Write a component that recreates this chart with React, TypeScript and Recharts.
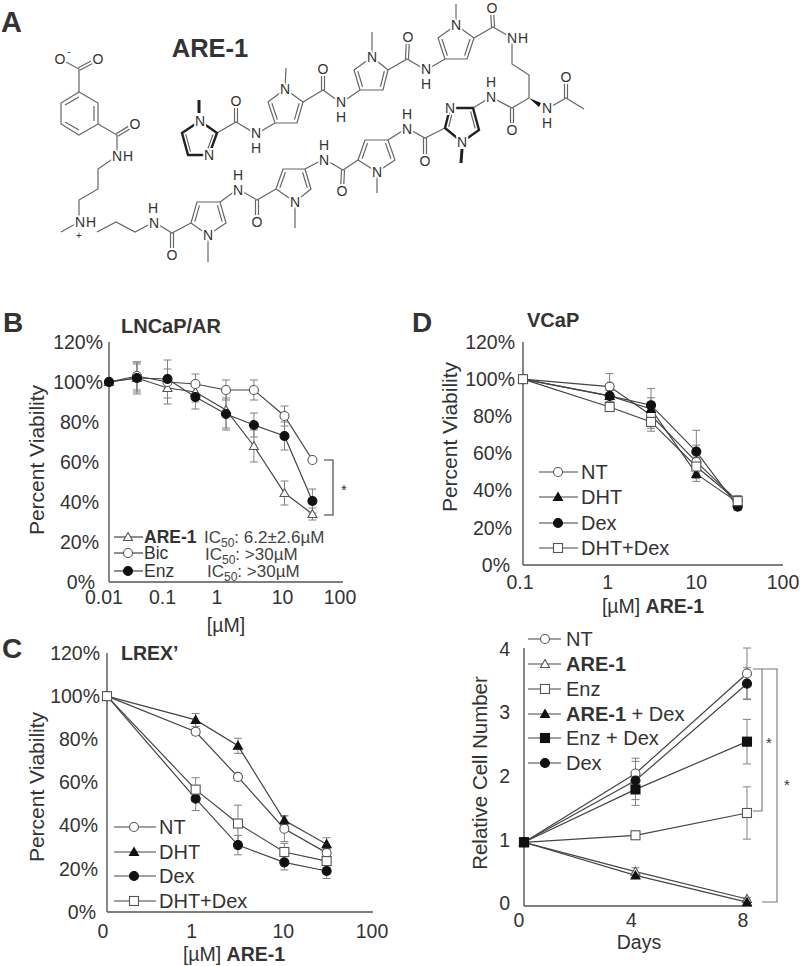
import React from 'react';
import { LineChart, Line, XAxis, YAxis, ErrorBar } from 'recharts';

const FONT = '"Liberation Sans", Arial, sans-serif';
const INK = '#333333';
const LINE = '#444444';
const ERR = '#808080';

// Panel B - LNCaP/AR
const bConc = [0.01, 0.03, 0.1, 0.3, 1, 3, 10, 30];
const bAre = [100, 102, 97, 95, 86, 68, 44.5, 34];
const bAreErr = [0, 8, 5, 5, 9, 8, 6, 3];
const bBic = [100, 103, 100, 99, 96, 96, 83, 61];
const bBicErr = [0, 7, 11, 5, 5, 5, 5, 0];
const bEnz = [100, 102, 101.5, 92.5, 84, 78.5, 73, 40.5];
const bEnzErr = [0, 7, 5, 6, 8, 6, 7, 6];

// Panel C - LREX'
const cConc = [0.1, 1, 3, 10, 30];
const cNt = [100, 83.5, 62.6, 38.6, 27.4];
const cNtErr = [0, 1.5, 1.5, 6, 2];
const cDht = [100, 89, 77, 42.5, 31.4];
const cDhtErr = [0, 3, 3.5, 2, 3];
const cDex = [100, 52.5, 31, 23, 19];
const cDexErr = [0, 5.5, 4.5, 3.5, 3.5];
const cCombo = [100, 56.7, 41, 27.8, 23.6];
const cComboErr = [0, 5.5, 8.5, 4, 3];

// Panel D - VCaP
const dConc = [0.1, 1, 3, 10, 30];
const dNt = [100, 96, 80.6, 55.5, 34.4];
const dNtErr = [0, 7, 7, 9, 3];
const dDht = [100, 91, 84, 49, 33.7];
const dDhtErr = [0, 3, 6, 4, 2];
const dDex = [100, 91, 86, 61, 31.4];
const dDexErr = [0, 3, 9, 11.5, 2];
const dCombo = [100, 85, 77, 53, 34.4];
const dComboErr = [0, 1.5, 5, 5, 3];

// Panel E - growth over days
const eDays = [0, 4, 8];
const eNt = [1, 2.08, 3.65];
const eNtErr = [0, 0.24, 0.4];
const eAre = [1, 0.54, 0.11];
const eAreErr = [0, 0.06, 0.02];
const eEnz = [1, 1.11, 1.46];
const eEnzErr = [0, 0.03, 0.41];
const eAreDex = [1, 0.48, 0.06];
const eAreDexErr = [0, 0.04, 0.02];
const eEnzDex = [1, 1.83, 2.58];
const eEnzDexErr = [0, 0.25, 0.35];
const eDex = [1, 1.97, 3.49];
const eDexErr = [0, 0.3, 0.25];

const pctTicks = [0, 20, 40, 60, 80, 100, 120];

function Marker({ kind, cx, cy, r = 4.5 }: any) {
  const open = kind.startsWith('open');
  const fill = open ? '#ffffff' : '#111111';
  const stroke = open ? '#555555' : '#111111';
  if (kind.endsWith('Circle')) return <circle cx={cx} cy={cy} r={r} fill={fill} stroke={stroke} strokeWidth={1.1} />;
  if (kind.endsWith('Square')) {
    return <rect x={cx - r} y={cy - r} width={2 * r} height={2 * r} fill={fill} stroke={stroke} strokeWidth={1.1} />;
  }
  return (
    <polygon
      points={`${cx},${cy - r} ${cx + r},${cy + r - 1} ${cx - r},${cy + r - 1}`}
      fill={fill}
      stroke={stroke}
      strokeWidth={1.1}
    />
  );
}

function buildRows(xs: number[], series: any[]) {
  return xs.map((x, i) => {
    const row: any = { x };
    series.forEach((s) => {
      row[s.key] = s.values[i];
      row[s.key + 'Err'] = s.errors[i];
    });
    return row;
  });
}

function Panel({ box, xs, series, xScale, xDomain, xTicks, xLabel, xLabelDx, xLabelGap, yDomain, yTicks, yLabel, yLabelDx, yLabelDy = 0 }: any) {
  const left = 70;
  const top = 16;
  const right = 26;
  const bottom = 42;
  const rows = buildRows(xs, series);
  const axisStyle = { stroke: '#555555', strokeWidth: 1.4 };
  return (
    <div style={{ position: 'absolute', left: box.x0 - left, top: box.y0 - top }}>
      <LineChart
        width={box.x1 - box.x0 + left + right}
        height={box.y1 - box.y0 + top + bottom}
        data={rows}
        margin={{ top, right, left: 0, bottom: 0 }}
      >
        <XAxis
          dataKey="x"
          type="number"
          scale={xScale}
          domain={xDomain}
          ticks={xTicks}
          interval={0}
          height={bottom}
          axisLine={axisStyle}
          tickLine={false}
          tickSize={0}
          tickMargin={0}
          tick={(p: any) => (
            <text
              x={p.x + (xLabelDx[p.payload.value] || 0)}
              y={p.y + xLabelGap}
              dy=".35em"
              textAnchor="middle"
              fontFamily={FONT}
              fontSize={19.5}
              fill={INK}
            >
              {xLabel(p.payload.value)}
            </text>
          )}
        />
        <YAxis
          type="number"
          domain={yDomain}
          ticks={yTicks}
          interval={0}
          width={left}
          axisLine={axisStyle}
          tickLine={false}
          tickSize={0}
          tickMargin={0}
          tick={(p: any) => (
            <text
              x={p.x + (yLabelDx[p.payload.value] ?? -8)}
              y={p.y + yLabelDy}
              dy=".35em"
              textAnchor="end"
              fontFamily={FONT}
              fontSize={19.5}
              fill={INK}
            >
              {yLabel(p.payload.value)}
            </text>
          )}
        />
        {series.map((s: any) => (
          <Line
            key={s.key}
            dataKey={s.key}
            type="linear"
            stroke={LINE}
            strokeWidth={1.2}
            isAnimationActive={false}
            dot={(p: any) => <Marker key={p.index} kind={s.marker} cx={p.cx} cy={p.cy} />}
          >
            <ErrorBar dataKey={s.key + 'Err'} direction="y" width={4} stroke={ERR} strokeWidth={1} />
          </Line>
        ))}
      </LineChart>
    </div>
  );
}

const plain = (v: number) => String(v);
const pct = (v: number) => `${v}%`;

const bSeries = [
  { key: 'are', marker: 'openTriangle', values: bAre, errors: bAreErr },
  { key: 'bic', marker: 'openCircle', values: bBic, errors: bBicErr },
  { key: 'enz', marker: 'solidCircle', values: bEnz, errors: bEnzErr },
];
const cSeries = [
  { key: 'nt', marker: 'openCircle', values: cNt, errors: cNtErr },
  { key: 'dht', marker: 'solidTriangle', values: cDht, errors: cDhtErr },
  { key: 'dex', marker: 'solidCircle', values: cDex, errors: cDexErr },
  { key: 'combo', marker: 'openSquare', values: cCombo, errors: cComboErr },
];
const dSeries = [
  { key: 'nt', marker: 'openCircle', values: dNt, errors: dNtErr },
  { key: 'dht', marker: 'solidTriangle', values: dDht, errors: dDhtErr },
  { key: 'dex', marker: 'solidCircle', values: dDex, errors: dDexErr },
  { key: 'combo', marker: 'openSquare', values: dCombo, errors: dComboErr },
];
const eSeries = [
  { key: 'nt', marker: 'openCircle', values: eNt, errors: eNtErr },
  { key: 'are', marker: 'openTriangle', values: eAre, errors: eAreErr },
  { key: 'enz', marker: 'openSquare', values: eEnz, errors: eEnzErr },
  { key: 'areDex', marker: 'solidTriangle', values: eAreDex, errors: eAreDexErr },
  { key: 'dex', marker: 'solidCircle', values: eDex, errors: eDexErr },
  { key: 'enzDex', marker: 'solidSquare', values: eEnzDex, errors: eEnzDexErr },
];

// chemical drawing for panel A, not chart data
const molChains = [
  [66, 62, 79, 69, 79, 92],
  [79, 92, 98, 103, 98, 124, 79, 135, 61, 124, 61, 103, 79, 92],
  [98, 124, 117, 135, 117, 156, 98, 169, 98, 189, 79, 200, 79, 222, 61, 232],
  [97, 232, 116, 222, 135, 232, 154, 222, 172, 233, 191, 223],
  [220, 202, 238, 189, 257, 200, 276, 189],
  [305, 169, 324, 159, 343, 170, 358, 160],
  [388, 140, 407, 128, 425, 138, 445, 128],
  [473, 108, 491, 97, 512, 108, 529, 98, 529, 75, 512, 64, 512, 38, 493, 27, 474, 38],
  [445, 59, 426, 70, 407, 59, 388, 70],
  [360, 90, 341, 103, 323, 90, 303, 102],
  [275, 123, 256, 134, 236, 122, 217, 133],
  [547, 109, 566, 98, 584, 109],
  [208, 235, 208, 262],
  [295, 202, 295, 228],
  [377, 172, 377, 193],
  [456, 25, 456, 4],
  [372, 57, 372, 32],
  [285, 89, 286, 68],
];
const molDoubles = [
  [79, 69, 98, 59],
  [117, 135, 135, 124],
  [172, 233, 172, 255],
  [257, 200, 257, 222],
  [343, 170, 342, 191],
  [425, 138, 425, 161],
  [512, 108, 512, 130],
  [493, 27, 492, 8],
  [407, 59, 408, 37],
  [323, 90, 323, 69],
  [236, 122, 236, 101],
  [566, 98, 566, 77],
];
const molBenzeneInner = [
  [65, 105, 79, 97],
  [94, 106, 94, 121],
  [65, 122, 79, 130],
];
const molPyrroles = [
  [191, 223, 197, 202, 220, 202, 226, 223, 208, 235],
  [276, 189, 283, 169, 305, 169, 311, 189, 295, 202],
  [358, 160, 365, 140, 388, 140, 395, 160, 377, 172],
  [474, 38, 467, 59, 445, 59, 438, 38, 456, 25],
  [388, 70, 383, 90, 360, 90, 354, 70, 372, 57],
  [303, 102, 297, 123, 275, 123, 268, 102, 285, 89],
];
const molImidazoles = [
  [445, 128, 450, 108, 473, 108, 479, 130, 462, 142],
  [217, 133, 209, 155, 188, 155, 182, 133, 200, 121],
];
const molBoldStubs = [
  [462, 149, 461, 163],
  [199, 113, 199, 100],
];
// one label per atom, an attached H or charge stays in the same text
const molAtoms: [string, number, number][][] = [
  [['O', 60, 59], ['-', 69, 50]],
  [['O', 98, 59]],
  [['O', 135, 124]],
  [['N', 117, 156], ['H', 128, 156]],
  [['N', 80, 222], ['H', 91, 222], ['+', 79, 234]],
  [['N', 154, 223], ['H', 153, 208]],
  [['O', 172, 255]],
  [['N', 208, 235]],
  [['N', 238, 190], ['H', 238, 175]],
  [['O', 257, 222]],
  [['N', 295, 202]],
  [['N', 324, 160], ['H', 324, 145]],
  [['O', 342, 191]],
  [['N', 377, 172]],
  [['N', 407, 129], ['H', 407, 114]],
  [['O', 425, 161]],
  [['N', 450, 108]],
  [['N', 462, 142]],
  [['N', 491, 97], ['H', 491, 82]],
  [['O', 512, 130]],
  [['N', 547, 108], ['H', 547, 123]],
  [['O', 566, 77]],
  [['N', 512, 38], ['H', 523, 38]],
  [['O', 492, 8]],
  [['N', 456, 25]],
  [['N', 426, 69], ['H', 426, 84]],
  [['O', 408, 37]],
  [['N', 372, 57]],
  [['N', 341, 102], ['H', 341, 117]],
  [['O', 323, 69]],
  [['N', 285, 89]],
  [['N', 256, 133], ['H', 256, 148]],
  [['O', 236, 101]],
  [['N', 200, 121]],
  [['N', 209, 155]],
];

function inner(p: number[], a: number, b: number) {
  const n = p.length / 2;
  let mx = 0;
  let my = 0;
  for (let i = 0; i < n; i++) {
    mx += p[2 * i] / n;
    my += p[2 * i + 1] / n;
  }
  const t = 0.22;
  const at = (i: number) => [p[2 * i] + (mx - p[2 * i]) * t, p[2 * i + 1] + (my - p[2 * i + 1]) * t];
  return [...at(a), ...at(b)];
}

function Molecule() {
  const bond = { fill: 'none', stroke: '#666666', strokeWidth: 1.2 };
  const bold = { fill: 'none', stroke: '#222222', strokeWidth: 2.4 };
  return (
    <g>
      {molChains.map((c, i) => <polyline key={i} points={c.join(' ')} {...bond} />)}
      {molDoubles.map((d, i) => {
        const dx = d[2] - d[0];
        const dy = d[3] - d[1];
        const len = Math.hypot(dx, dy);
        const ox = (-dy / len) * 1.5;
        const oy = (dx / len) * 1.5;
        // stop short of the oxygen label
        const ex = d[2] - (dx / len) * 7;
        const ey = d[3] - (dy / len) * 7;
        return (
          <g key={i}>
            <line x1={d[0] + ox} y1={d[1] + oy} x2={ex + ox} y2={ey + oy} {...bond} />
            <line x1={d[0] - ox} y1={d[1] - oy} x2={ex - ox} y2={ey - oy} {...bond} />
          </g>
        );
      })}
      {molBenzeneInner.map((d, i) => <line key={i} x1={d[0]} y1={d[1]} x2={d[2]} y2={d[3]} {...bond} />)}
      {molPyrroles.map((p, i) => {
        const a = inner(p, 0, 1);
        const b = inner(p, 2, 3);
        return (
          <g key={i}>
            <polygon points={p.join(' ')} {...bond} />
            <line x1={a[0]} y1={a[1]} x2={a[2]} y2={a[3]} {...bond} />
            <line x1={b[0]} y1={b[1]} x2={b[2]} y2={b[3]} {...bond} />
          </g>
        );
      })}
      {molImidazoles.map((p, i) => {
        const a = inner(p, 0, 1);
        const b = inner(p, 2, 3);
        return (
          <g key={i}>
            <polygon points={p.join(' ')} {...bold} />
            <line x1={a[0]} y1={a[1]} x2={a[2]} y2={a[3]} {...bond} />
            <line x1={b[0]} y1={b[1]} x2={b[2]} y2={b[3]} {...bond} />
          </g>
        );
      })}
      {molBoldStubs.map((d, i) => <line key={i} x1={d[0]} y1={d[1]} x2={d[2]} y2={d[3]} {...bold} strokeWidth={3} />)}
      <polygon points="529,98 541,103 539,107" fill="#111111" />
      {molAtoms.map((glyphs, i) => (
        <text
          key={i}
          textAnchor="middle"
          fontFamily={FONT}
          fontSize={13}
          fill={INK}
          stroke="#ffffff"
          strokeWidth={4}
          style={{ paintOrder: 'stroke' }}
        >
          {glyphs.map(([t, x, y], j) => (
            <tspan key={j} x={x} y={y + 5} fontSize={t === '-' || t === '+' ? 10 : 14}>{t}</tspan>
          ))}
        </text>
      ))}
    </g>
  );
}

function T({ x, y, size = 20, bold = false, anchor = 'start', fill = INK, children, rotate }: any) {
  return (
    <text
      x={x}
      y={y}
      dy=".35em"
      textAnchor={anchor}
      fontFamily={FONT}
      fontSize={size}
      fontWeight={bold ? 700 : 400}
      fill={fill}
      transform={rotate ? `rotate(-90 ${x} ${y})` : undefined}
    >
      {children}
    </text>
  );
}

function LegendRow({ x0, x1, mx, tx, y, kind, size = 20, children }: any) {
  return (
    <g>
      <line x1={x0} y1={y} x2={x1} y2={y} stroke={LINE} strokeWidth={1.2} />
      <Marker kind={kind} cx={mx} cy={y} r={4.5} />
      <T x={tx} y={y} size={size}>{children}</T>
    </g>
  );
}

function Ic50({ x, y, value }: any) {
  return (
    <T x={x} y={y} size={17} fill="#444444">
      IC<tspan fontSize={12} dy={4}>50</tspan><tspan dy={-4}>: {value}</tspan>
    </T>
  );
}

const bold = (s: string) => <tspan fontWeight={700}>{s}</tspan>;

function Overlay() {
  const gray = { fill: 'none', stroke: '#777777', strokeWidth: 1.1 };
  const rowC = { x0: 114, x1: 156, mx: 134, tx: 159 };
  const rowD = { x0: 539, x1: 578, mx: 558, tx: 581 };
  const rowE = { x0: 528, x1: 561, mx: 545, tx: 566 };
  const rowB = { x0: 114, x1: 143, mx: 128, tx: 144, size: 17.5 };
  return (
    <svg width={800} height={966} style={{ position: 'absolute', left: 0, top: 0, pointerEvents: 'none' }}>
      <Molecule />
      <T x={1} y={22} size={29} bold>A</T>
      <T x={3} y={322} size={28} bold>B</T>
      <T x={2} y={648} size={28} bold>C</T>
      <T x={412} y={322} size={28} bold>D</T>
      <T x={210} y={48} size={25.5} bold anchor="middle">ARE-1</T>

      <T x={121} y={326} size={20} bold>LNCaP/AR</T>
      <T x={527} y={320} size={20} bold>VCaP</T>
      <T x={121} y={653} size={19.5} bold>LREX’</T>

      <T x={37} y={460} size={21} anchor="middle" rotate>Percent Viability</T>
      <T x={450} y={437} size={21} anchor="middle" rotate>Percent Viability</T>
      <T x={37} y={787} size={21} anchor="middle" rotate>Percent Viability</T>
      <T x={480} y={773} size={20.5} anchor="middle" rotate>Relative Cell Number</T>

      <T x={226} y={625} size={19.5} anchor="middle">[µM]</T>
      <T x={653} y={606} size={19.5} anchor="middle">[µM] {bold('ARE-1')}</T>
      <T x={234} y={954} size={19.5} anchor="middle">[µM] {bold('ARE-1')}</T>
      <T x={639} y={942} size={19.5} anchor="middle">Days</T>

      <LegendRow {...rowB} y={537} kind="openTriangle">{bold('ARE-1')}</LegendRow>
      <LegendRow {...rowB} y={553} kind="openCircle">Bic</LegendRow>
      <LegendRow {...rowB} y={571} kind="solidCircle">Enz</LegendRow>
      <Ic50 x={204} y={537} value="6.2±2.6µM" />
      <Ic50 x={205} y={554} value=">30µM" />
      <Ic50 x={207} y={571} value=">30µM" />

      <LegendRow {...rowC} y={827} kind="openCircle">NT</LegendRow>
      <LegendRow {...rowC} y={852} kind="solidTriangle">DHT</LegendRow>
      <LegendRow {...rowC} y={876} kind="solidCircle">Dex</LegendRow>
      <LegendRow {...rowC} y={901} kind="openSquare">DHT+Dex</LegendRow>

      <LegendRow {...rowD} y={472} kind="openCircle">NT</LegendRow>
      <LegendRow {...rowD} y={497} kind="solidTriangle">DHT</LegendRow>
      <LegendRow {...rowD} y={523} kind="solidCircle">Dex</LegendRow>
      <LegendRow {...rowD} y={548} kind="openSquare">DHT+Dex</LegendRow>

      <LegendRow {...rowE} y={639} kind="openCircle">NT</LegendRow>
      <LegendRow {...rowE} y={664} kind="openTriangle">{bold('ARE-1')}</LegendRow>
      <LegendRow {...rowE} y={689} kind="openSquare">Enz</LegendRow>
      <LegendRow {...rowE} y={714} kind="solidTriangle">{bold('ARE-1')} + Dex</LegendRow>
      <LegendRow {...rowE} y={738} kind="solidSquare">Enz + Dex</LegendRow>
      <LegendRow {...rowE} y={763} kind="solidCircle">Dex</LegendRow>

      <polyline points="324,460 333,460 333,515 324,515" fill="none" stroke="#333333" strokeWidth={1.1} />
      <T x={344} y={490} size={15} anchor="middle">*</T>
      <polyline points="753,669 762,669 762,811 753,811" {...gray} />
      <polyline points="762,669 777,669 777,902 762,902" {...gray} />
      <T x={769} y={743} size={15} anchor="middle">*</T>
      <T x={787} y={785} size={15} anchor="middle">*</T>
    </svg>
  );
}

export default function App() {
  return (
    <div style={{ position: 'absolute', left: 0, top: 0, width: 800, height: 966, overflow: 'hidden', background: '#ffffff' }}>
      <Panel
        box={{ x0: 109, y0: 342, x1: 343, y1: 582 }}
        xs={bConc}
        series={bSeries}
        xScale="log"
        xDomain={[0.01, 100]}
        xTicks={[0.01, 0.1, 1, 10, 100]}
        xLabel={plain}
        xLabelDx={{ 0.01: -5, 0.1: -5, 1: -9, 10: -2, 100: -3 }}
        xLabelGap={15}
        yDomain={[0, 120]}
        yTicks={pctTicks}
        yLabel={pct}
        yLabelDx={{ 120: -6, 100: -6, 80: -10, 60: -10, 40: -10, 20: -10, 0: -14 }}
      />
      <Panel
        box={{ x0: 107, y0: 653, x1: 373, y1: 912 }}
        xs={cConc}
        series={cSeries}
        xScale="log"
        xDomain={[0.1, 100]}
        xTicks={[0.1, 1, 10, 100]}
        xLabel={(v: number) => (v === 0.1 ? '0' : String(v))}
        xLabelDx={{ 0.1: -4, 1: -4, 10: -1, 100: -1 }}
        xLabelGap={19}
        yDomain={[0, 120]}
        yTicks={pctTicks}
        yLabel={pct}
        yLabelDx={{ 120: -7, 100: -7, 80: -9, 60: -9, 40: -9, 20: -9, 0: -11 }}
      />
      <Panel
        box={{ x0: 523, y0: 342, x1: 783, y1: 565 }}
        xs={dConc}
        series={dSeries}
        xScale="log"
        xDomain={[0.1, 100]}
        xTicks={[0.1, 1, 10, 100]}
        xLabel={plain}
        xLabelDx={{ 0.1: -3, 1: -2, 10: 0, 100: 0 }}
        xLabelGap={17}
        yDomain={[0, 120]}
        yTicks={pctTicks}
        yLabel={pct}
        yLabelDx={{ 120: -8, 100: -8, 80: -11, 60: -11, 40: -11, 20: -11, 0: -13 }}
      />
      <Panel
        box={{ x0: 524, y0: 648, x1: 752, y1: 906 }}
        xs={eDays}
        series={eSeries}
        xScale="linear"
        xDomain={[0, 8.18]}
        xTicks={[0, 4, 8]}
        xLabel={plain}
        xLabelDx={{ 0: -5, 4: -4, 8: -4 }}
        xLabelGap={14}
        yDomain={[0, 4]}
        yTicks={[0, 1, 2, 3, 4]}
        yLabel={plain}
        yLabelDx={{ 0: -14, 1: -14, 2: -14, 3: -14, 4: -14 }}
        yLabelDy={-2.5}
      />
      <Overlay />
    </div>
  );
}
